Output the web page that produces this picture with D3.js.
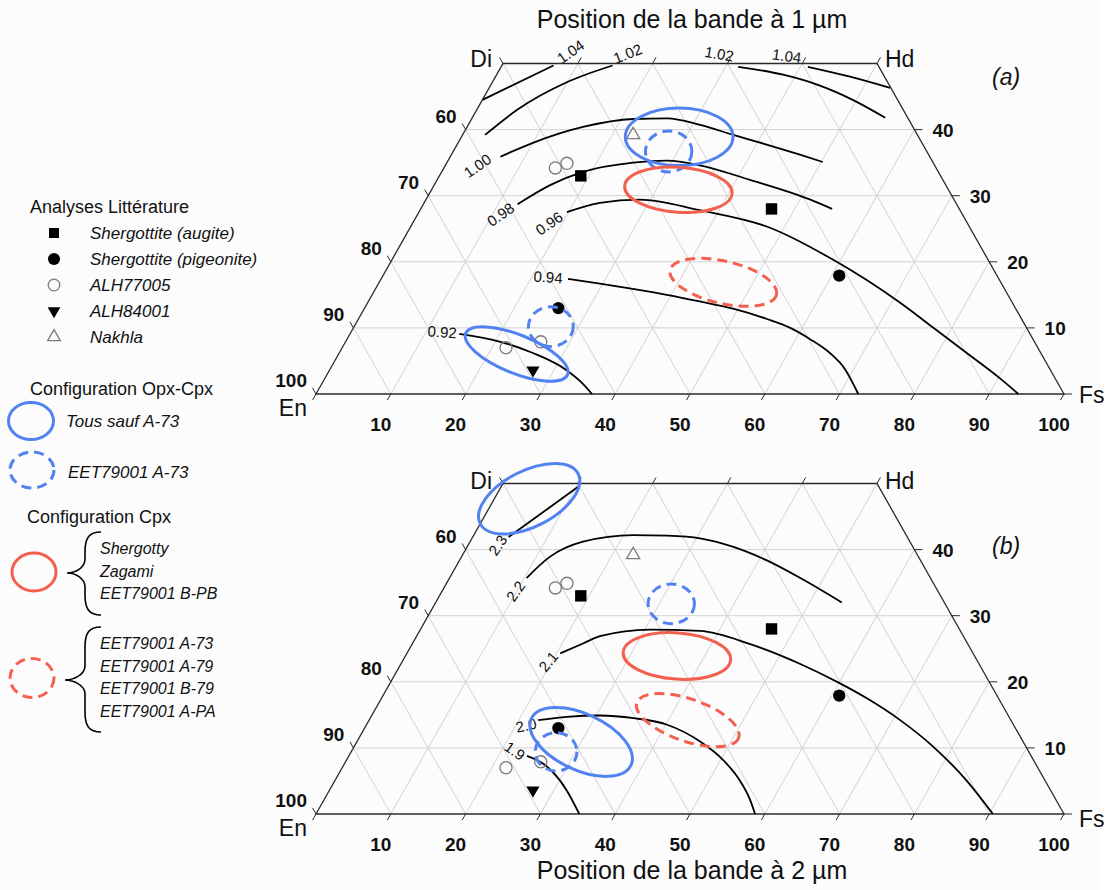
<!DOCTYPE html>
<html><head><meta charset="utf-8">
<script src="https://cdn.jsdelivr.net/npm/d3@7"></script>
<style>
body{margin:0;background:#fff;}
svg{display:block;font-family:"Liberation Sans",Arial,sans-serif;}
</style></head><body>
<svg id="chart" width="1111" height="890"></svg>
<script>
// ================= DATA (compositions as [Fs, Wo]) =================
const fsTickValues = [10,20,30,40,50,60,70,80,90,100];
const enTickValues = [60,70,80,90,100];
const woTickValues = [10,20,30,40];
const gridSteps = [10,20,30,40,50,60,70,80,90];

// literature analyses
const shergAugite    = [[18.9,33.0],[46.9,28.0]];
const shergPigeonite = [[25.9,13.0],[61.0,17.9]];
const alh77005       = [[14.9,34.2],[16.1,34.9],[21.9,7.0],[26.1,7.9]];
const alh84001       = [[27.2,3.6]];
const nakhla         = [[22.8,39.2]];

// iso-position contours, band at 1 µm
const band1Labels = ["1.04","1.02","1.00","0.98","0.96","0.94","0.92","1.02","1.04"];
const band1Lines = [
  [[0,44.5],[6.9,49.7]],
  [[3.0,39.2],[5.4,43.0],[10.0,47.2],[14.8,49.7]],
  [[6.7,35.9],[10.0,38.0],[15.5,40.4],[21.6,41.6],[26.1,41.7],[31.0,40.7],[36.2,39.2],[41.5,37.7],[46.6,36.2],[50.2,35.1]],
  [[12.6,28.7],[15.5,31.6],[18.9,33.6],[24.9,35.0],[29.3,35.3],[34.0,34.6],[41.8,32.4],[51.4,29.4],[55.0,28.0]],
  [[19.8,27.5],[23.5,28.9],[28.6,29.4],[37.4,27.8],[47.7,25.3],[59.0,20.3],[71.2,13.8],[77.4,10.1],[83.9,6.2],[90.2,2.4],[93.9,0]],
  [[25.0,17.4],[29.6,16.7],[34.4,15.9],[39.4,15.0],[44.3,14.0],[49.3,12.9],[54.6,11.35],[58.4,10.0],[61.9,8.3],[65.6,6.2],[68.8,3.8],[72.5,0]],
  [[14.6,9.1],[20.7,7.9],[25.9,6.2],[31.7,3.6],[34.4,1.9],[36.9,0]],
  [[31.7,49.5],[38.3,48.3],[43.6,46.8],[49.5,44.5],[55.2,41.8]],
  [[41.0,49.5],[47.4,48.0],[53.6,46.3]]
];

// iso-position contours, band at 2 µm
const band2Labels = ["2.3","2.2","2.1","2.0","1.9"];
const band2Lines = [
  [[4.8,41.9],[10.3,49.5]],
  [[10.3,35.7],[11.8,38.9],[15.1,41.2],[21.3,42.2],[25.9,42.1],[30.5,41.7],[35.6,40.4],[41.0,38.4],[46.9,35.7],[54.3,32.0]],
  [[20.5,24.3],[22.8,25.8],[24.5,26.9],[30.7,27.9],[37.5,27.7],[45.2,25.7],[53.4,22.7],[60.1,19.8],[64.9,17.5],[71.0,14.2],[77.4,10.2],[84.4,5.1],[90.5,0]],
  [[22.6,14.2],[26.2,14.7],[30.5,14.9],[35.2,14.5],[40.2,13.5],[45.8,11.0],[50.3,8.2],[54.2,5.0],[57.0,2.1],[58.7,0]],
  [[23.8,8.8],[28.0,6.7],[31.7,3.6],[35.2,0]]
];

// spectral fit domains: [Fs, Wo, half-width (Fs units), half-height (Wo units), tilt deg]
const band1OpxCpx    = [[29.1,38.9,7.2,4.35,0],[23.8,6.05,7.35,2.9,22]];
const band1OpxCpxA73 = [[28.8,36.7,3.1,3.1,0],[26.3,10.2,3.0,3.0,0]];
const band1Cpx       = [[33.0,30.9,7.2,3.4,4]];
const band1CpxEET    = [[46.0,16.9,7.3,3.2,13]];
const band2OpxCpx    = [[4.65,47.7,7.35,4.24,-27],[30.0,10.9,7.35,4.24,25]];
const band2OpxCpxA73 = [[31.6,31.8,3.1,3.0,0],[27.4,9.4,2.8,2.9,0]];
const band2Cpx       = [[36.3,23.9,7.2,3.5,4]];
const band2CpxEET    = [[42.6,14.2,7.2,3.2,19]];

const legendCpxA = ["Shergotty","Zagami","EET79001 B-PB"];
const legendCpxB = ["EET79001 A-73","EET79001 A-79","EET79001 B-79","EET79001 A-PA"];

// ================= LAYOUT =================
const BLUE = "#5282f2", RED = "#f4604f", GRID = "#d2d2d2", FRAME = "#2a2a2a";
const svg = d3.select("#chart");
svg.append("rect").attr("width",1101).attr("height",890).attr("fill","#fcfcfc");

const xS = d3.scaleLinear().domain([0,100]).range([316,1064]);
const yS = d3.scaleLinear().domain([0,50]).range([0,-330.5]);
const ux = xS(1)-xS(0), uy = -(yS(1)-yS(0));
const dirL = [0.4924,-0.8703];

const labelCfg1 = [
  {at:"end",dx:17,dy:-14,a:-35},{at:"end",dx:15,dy:-12,a:-22},
  {at:"start",dx:-23,dy:9,a:-35},{at:"start",dx:-17,dy:10,a:-35},
  {at:"start",dx:-18,dy:11,a:-35},{at:"start",dx:-20,dy:-2,a:4},
  {at:"start",dx:-17,dy:-2,a:4},{at:"start",dx:-19,dy:-13,a:10},
  {at:"start",dx:-21,dy:-11,a:8}
];
const labelCfg2 = [
  {at:"start",dx:-11,dy:8,a:-55},{at:"start",dx:-11,dy:13,a:-55},
  {at:"start",dx:-12,dy:8,a:-50},{at:"start",dx:-12,dy:5,a:-12},
  {at:"start",dx:-12,dy:-5,a:35}
];

function drawPanel(base, tag, lines, labels, lcfg, ells, cfg) {
  const g = svg.append("g");
  const P = (fs, wo) => [xS(fs + wo/2), base + yS(wo)];
  const seg = (a, b, col, w) => g.append("line").attr("x1",a[0]).attr("y1",a[1]).attr("x2",b[0]).attr("y2",b[1])
      .attr("stroke",col).attr("stroke-width",w);
  // grid
  woTickValues.forEach(w => seg(P(0,w), P(100-w,w), GRID, 1));
  gridSteps.forEach(f => seg(P(f,0), P(f, Math.min(50,100-f)), GRID, 1));
  gridSteps.forEach(e => { const s = 100-e, we = Math.min(50,s); seg(P(s,0), P(s-we,we), GRID, 1); });
  // frame
  const corners = [P(0,0),P(100,0),P(50,50),P(0,50)];
  g.append("path").attr("d","M"+corners.map(c=>c.join(",")).join("L")+"Z")
    .attr("fill","none").attr("stroke",FRAME).attr("stroke-width",1.3);
  // ticks
  const T = 7;
  [0].concat(fsTickValues).forEach(f => { const p = P(f,0); seg(p,[p[0]-dirL[0]*T,p[1]-dirL[1]*T],FRAME,1); });
  [0,10,20,30,40,50].forEach(w => { const p = P(0,w); seg(p,[p[0]-dirL[0]*T,p[1]+dirL[1]*T],FRAME,1); });
  [10,20,30,40,50].forEach(f => { const p = P(f,50); seg(p,[p[0]+dirL[0]*T,p[1]+dirL[1]*T],FRAME,1); });
  [0].concat(woTickValues).forEach(w => { const p = P(100-w,w); seg(p,[p[0]+8,p[1]],FRAME,1); });
  // tick labels
  const num = (x,y,t,anchor) => g.append("text").attr("x",x).attr("y",y).attr("text-anchor",anchor)
      .attr("font-size",19).attr("font-weight","bold").attr("fill","#111").text(t);
  fsTickValues.forEach(f => { const p = P(f,0); num(p[0]-10, p[1]+37, f, "middle"); });
  enTickValues.forEach(e => { const p = P(0,100-e); num(p[0]-9, p[1]-7, e, "end"); });
  woTickValues.forEach(w => { const p = P(100-w,w); num(p[0]+18, p[1]+7, w, "start"); });
  // end-member labels
  const em = (x,y,t,anchor) => g.append("text").attr("x",x).attr("y",y).attr("text-anchor",anchor)
      .attr("font-size",23).attr("fill","#111").text(t);
  em(P(0,50)[0]-11, P(0,50)[1]+cfg.diDy, "Di", "end");
  em(P(50,50)[0]+8, P(50,50)[1]+cfg.diDy, "Hd", "start");
  em(P(0,0)[0]-9, P(0,0)[1]+22, "En", "end");
  em(P(100,0)[0]+15, P(100,0)[1]+cfg.fsDy, "Fs", "start");
  g.append("text").attr("x",992).attr("y",base+cfg.tagDy).attr("font-size",23).attr("font-style","italic")
    .attr("fill","#111").text(tag);
  // contours
  const lineGen = d3.line().x(d => P(d[0],d[1])[0]).y(d => P(d[0],d[1])[1]).curve(d3.curveMonotoneX);
  lines.forEach((pts,i) => {
    g.append("path").attr("d",lineGen(pts)).attr("fill","none").attr("stroke","#000").attr("stroke-width",1.8);
    const c = lcfg[i]; const anchor = c.at === "start" ? pts[0] : pts[pts.length-1];
    const p = P(anchor[0],anchor[1]);
    g.append("text").attr("transform",`translate(${p[0]+c.dx},${p[1]+c.dy}) rotate(${c.a})`)
      .attr("text-anchor","middle").attr("dominant-baseline","central").attr("font-size",15)
      .attr("fill","#111").text(labels[i]);
  });
  // literature markers
  const sym = (data, type, size, fill, stroke, rot) => data.forEach(d => {
    const p = P(d[0],d[1]);
    g.append("path").attr("d", d3.symbol().type(type).size(size)())
      .attr("transform",`translate(${p[0]},${p[1]}) rotate(${rot||0})`)
      .attr("fill",fill).attr("stroke",stroke).attr("stroke-width",1.3);
  });
  sym(shergAugite, d3.symbolSquare, 130, "#000", "none");
  sym(shergPigeonite, d3.symbolCircle, 120, "#000", "none");
  sym(alh77005, d3.symbolCircle, 115, "none", "#7a7a7a");
  sym(alh84001, d3.symbolTriangle, 75, "#000", "none", 180);
  sym(nakhla, d3.symbolTriangle, 75, "none", "#7a7a7a");
  // fit domains
  const ell = (data, col, dash) => data.forEach(d => {
    const p = P(d[0],d[1]);
    g.append("ellipse").attr("cx",p[0]).attr("cy",p[1]).attr("rx",d[2]*ux).attr("ry",d[3]*uy)
      .attr("transform",`rotate(${d[4]},${p[0]},${p[1]})`)
      .attr("fill","none").attr("stroke",col).attr("stroke-width",3)
      .attr("stroke-dasharray",dash ? "10,6" : null);
  });
  ell(ells[0], BLUE, false); ell(ells[1], BLUE, true); ell(ells[2], RED, false); ell(ells[3], RED, true);
}

drawPanel(394, "(a)", band1Lines, band1Labels, labelCfg1,
  [band1OpxCpx, band1OpxCpxA73, band1Cpx, band1CpxEET], {diDy:3, fsDy:9, tagDy:-309});
drawPanel(814, "(b)", band2Lines, band2Labels, labelCfg2,
  [band2OpxCpx, band2OpxCpxA73, band2Cpx, band2CpxEET], {diDy:5, fsDy:13, tagDy:-260});

// titles
svg.append("text").attr("x",692).attr("y",28).attr("text-anchor","middle").attr("font-size",25)
  .attr("fill","#111").text("Position de la bande à 1 µm");
svg.append("text").attr("x",692).attr("y",879).attr("text-anchor","middle").attr("font-size",25)
  .attr("fill","#111").text("Position de la bande à 2 µm");

// ================= LEGEND =================
const L = svg.append("g");
const ltxt = (x,y,t,size,italic) => L.append("text").attr("x",x).attr("y",y).attr("font-size",size)
  .attr("font-style",italic ? "italic" : null).attr("fill","#111").text(t);
ltxt(30,213,"Analyses Littérature",18,false);
const legItems = [
  {t:"Shergottite (augite)", type:d3.symbolSquare, size:100, fill:"#000", stroke:"none"},
  {t:"Shergottite (pigeonite)", type:d3.symbolCircle, size:115, fill:"#000", stroke:"none"},
  {t:"ALH77005", type:d3.symbolCircle, size:105, fill:"none", stroke:"#7a7a7a"},
  {t:"ALH84001", type:d3.symbolTriangle, size:70, fill:"#000", stroke:"none", rot:180},
  {t:"Nakhla", type:d3.symbolTriangle, size:70, fill:"none", stroke:"#7a7a7a"}
];
const legRowY = d3.scalePoint().domain(d3.range(legItems.length)).range([233,337]);
legItems.forEach((it,i) => {
  const y = legRowY(i);
  L.append("path").attr("d", d3.symbol().type(it.type).size(it.size)())
    .attr("transform",`translate(54,${y}) rotate(${it.rot||0})`)
    .attr("fill",it.fill).attr("stroke",it.stroke).attr("stroke-width",1.3);
  ltxt(90, y+6, it.t, 17, true);
});
ltxt(30,395,"Configuration Opx-Cpx",18,false);
const lell = (cx,cy,rx,ry,col,dash) => L.append("ellipse").attr("cx",cx).attr("cy",cy).attr("rx",rx).attr("ry",ry)
  .attr("fill","none").attr("stroke",col).attr("stroke-width",3).attr("stroke-dasharray",dash?"10,6":null);
lell(31,421,22.5,18.5,BLUE,false); ltxt(66,427,"Tous sauf A-73",17,true);
lell(32,470,22,18,BLUE,true); ltxt(68,478,"EET79001 A-73",17,true);
ltxt(27,523,"Configuration Cpx",18,false);
lell(34,572,22,19,RED,false);
lell(32,678,22,19.5,RED,true);
function brace(y0,y1,ym,xr,xs,xt){
  const p = `M${xr},${y0} C${xs+4},${y0} ${xs},${y0+6} ${xs},${y0+20} L${xs},${ym-14}
    C${xs},${ym-5} ${xt+8},${ym} ${xt},${ym} C${xt+8},${ym} ${xs},${ym+5} ${xs},${ym+14}
    L${xs},${y1-20} C${xs},${y1-6} ${xs+4},${y1} ${xr},${y1}`;
  L.append("path").attr("d",p).attr("fill","none").attr("stroke","#000").attr("stroke-width",1.6);
}
brace(532,615,573,101,85,67);
brace(627,732,680,101,85,65);
legendCpxA.forEach((t,i) => ltxt(100, 554 + i*22.5, t, 16, true));
legendCpxB.forEach((t,i) => ltxt(100, 649 + i*22.7, t, 16, true));
</script></body></html>
